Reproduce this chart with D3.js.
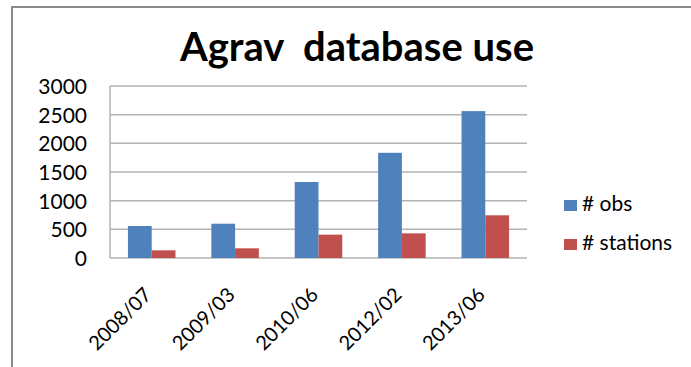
<!DOCTYPE html>
<html>
<head>
<meta charset="utf-8">
<script src="https://cdn.jsdelivr.net/npm/d3@7"></script>
<style>
  html, body { margin: 0; padding: 0; background: #fff; }
  svg { display: block; }
  text { font-family: Lato, "Open Sans", sans-serif; fill: #000; }
</style>
</head>
<body>
<svg id="chart" width="691" height="367"></svg>
<script>
// Survey dates and counts per date
const categories = ["2008/07", "2009/03", "2010/06", "2012/02", "2013/06"];
const seriesNames = ["# obs", "# stations"];
const obs = [558, 598, 1326, 1835, 2562];
const stations = [134, 169, 407, 430, 745];
const yTicks = [0, 500, 1000, 1500, 2000, 2500, 3000];
const colors = ["#4F81BD", "#C0504D"];

const svg = d3.select("#chart");

// outer frame (top and left edges)
svg.append("path")
  .attr("d", "M12,367 L12,7 L691,7")
  .attr("fill", "none")
  .attr("stroke", "#8a8a8a")
  .attr("stroke-width", 2);

const plot = { left: 110, right: 527, top: 86, bottom: 258 };

const x0 = d3.scaleBand().domain(categories).range([plot.left, plot.right]).padding(0);
const bw = x0.bandwidth();
const x1 = d3.scaleBand().domain(seriesNames).range([bw * 0.215, bw * 0.785]).padding(0);
const y = d3.scaleLinear().domain([0, 3000]).range([plot.bottom, plot.top]);

// gridlines
svg.append("g")
  .selectAll("line")
  .data(yTicks)
  .join("line")
  .attr("x1", plot.left).attr("x2", plot.right)
  .attr("y1", d => y(d)).attr("y2", d => y(d))
  .attr("stroke", "#b3b3b3")
  .attr("stroke-width", 1.5);

// vertical axis line
svg.append("line")
  .attr("x1", plot.left).attr("x2", plot.left)
  .attr("y1", plot.top).attr("y2", plot.bottom)
  .attr("stroke", "#b3b3b3")
  .attr("stroke-width", 1.5);

// y tick labels
const yAxis = d3.axisLeft(y).tickValues(yTicks).tickFormat(d3.format("d")).tickSize(0).tickPadding(0);
const gy = svg.append("g").attr("transform", `translate(${plot.left - 23},0)`).call(yAxis);
gy.select(".domain").remove();
gy.selectAll("text")
  .attr("font-family", "Lato, sans-serif")
  .attr("font-size", 21)
  .attr("fill", "#000")
  .attr("dy", "0.35em");

// bars
const rows = categories.map((c, i) => ({ cat: c, vals: [obs[i], stations[i]] }));
const groups = svg.append("g")
  .selectAll("g")
  .data(rows)
  .join("g")
  .attr("transform", d => `translate(${x0(d.cat)},0)`);
groups.selectAll("rect")
  .data(d => d.vals.map((v, k) => ({ name: seriesNames[k], v, k })))
  .join("rect")
  .attr("x", d => x1(d.name))
  .attr("width", x1.bandwidth())
  .attr("y", d => y(d.v))
  .attr("height", d => y(0) - y(d.v))
  .attr("fill", d => colors[d.k]);

// x tick labels, rotated
const xAxis = d3.axisBottom(x0).tickSize(0).tickPadding(0);
const gx = svg.append("g").attr("transform", `translate(0,${plot.bottom})`).call(xAxis);
gx.select(".domain").remove();
gx.selectAll("text")
  .attr("font-family", "Lato, sans-serif")
  .attr("font-size", 20)
  .attr("fill", "#000")
  .attr("text-anchor", "end")
  .attr("dy", 0)
  .attr("transform", "translate(1,38) rotate(-45)");

// title
svg.append("text")
  .attr("x", 357).attr("y", 61)
  .attr("text-anchor", "middle")
  .attr("font-weight", "bold")
  .attr("font-size", 40)
  .attr("xml:space", "preserve")
  .style("white-space", "pre")
  .text("Agrav  database use");

// legend
const legend = svg.append("g")
  .selectAll("g")
  .data(seriesNames)
  .join("g")
  .attr("transform", (d, i) => `translate(564,${200 + i * 39})`);
legend.append("rect")
  .attr("width", 13).attr("height", 11)
  .attr("fill", (d, i) => colors[i]);
legend.append("text")
  .attr("x", 18).attr("y", 11)
  .attr("font-size", 21)
  .text(d => d);
</script>
</body>
</html>
